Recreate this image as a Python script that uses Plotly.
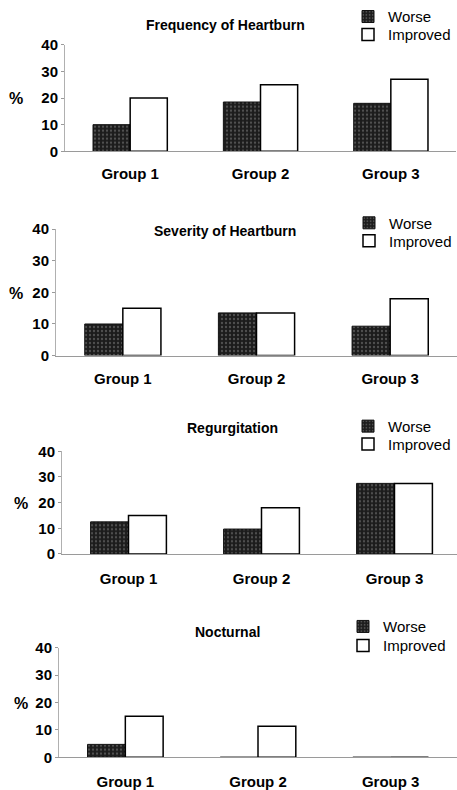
import plotly.graph_objects as go

W, H = 457, 790

groups = ["Group 1", "Group 2", "Group 3"]
series_names = ["Worse", "Improved"]
panel_titles = ["Frequency of Heartburn", "Severity of Heartburn", "Regurgitation", "Nocturnal"]

freq_worse = [10, 18.5, 18]
freq_improved = [20, 25, 27]
sev_worse = [10, 13.5, 9.3]
sev_improved = [15, 13.5, 18]
reg_worse = [12.5, 9.7, 27.5]
reg_improved = [15, 18, 27.5]
noc_worse = [4.7, 0, 0]
noc_improved = [15, 11.3, 0]

y_ticks = [0, 10, 20, 30, 40]

panels = [
    (freq_worse, freq_improved),
    (sev_worse, sev_improved),
    (reg_worse, reg_improved),
    (noc_worse, noc_improved),
]


def vy(p):
    # target pixel row -> figure pixel row (compensates the capture's vertical fit)
    return (p - 8.2) / 0.978


# pixel geometry (layout only), given as target rows in the picture
ypix = [(150, 43), (355, 228), (554, 451), (758, 648)]       # (value 0, value 40)
xpix = [(65, 456), (56, 457), (62, 457), (59, 457)]
xrng = [(-0.5, 2.5), (-0.5, 2.5), (-0.5, 2.47), (-0.5, 2.5)]
title_pos = [(225, 23), (225, 230), (232, 428), (227, 632)]
pct_pos = [(16, 97), (16, 293), (21, 503), (21, 704)]
legend_x = [348, 349, 348, 343]
legend_rows = [(15, 33), (222, 240), (426, 444), (627, 646)]   # Worse, Improved
standoff = [9, 9, 11, 11]

FONT = "Liberation Sans, Arial, sans-serif"

fig = go.Figure()
layout = dict(
    width=W, height=H,
    margin=dict(l=0, r=0, t=0, b=0),
    paper_bgcolor="white", plot_bgcolor="white",
    showlegend=True,
    barmode="group", bargap=0.43, bargroupgap=0,
    font=dict(family=FONT, color="black"),
    annotations=[],
)

for i, (worse, improved) in enumerate(panels):
    k = "" if i == 0 else str(i + 1)
    xa, ya = "x" + k, "y" + k
    lg_w = "legend" + ("" if i == 0 else str(2 * i + 1))
    lg_i = "legend" + str(2 * i + 2)
    fig.add_trace(go.Bar(
        x=groups, y=worse, name=series_names[0], xaxis=xa, yaxis=ya, legend=lg_w,
        showlegend=True,
        marker=dict(color="#1c1c1c", line=dict(color="#111", width=1),
                    pattern=dict(shape=".", fgcolor="#8a8a8a", bgcolor="#1c1c1c",
                                 size=4, solidity=0.25)),
    ))
    fig.add_trace(go.Bar(
        x=groups, y=improved, name=series_names[1], xaxis=xa, yaxis=ya, legend=lg_i,
        showlegend=True,
        marker=dict(color="white", line=dict(color="black", width=1.5)),
    ))
    y0, y1 = ypix[i]
    x0, x1 = xpix[i]
    layout["xaxis" + k] = dict(
        domain=[x0 / W, x1 / W], anchor=ya, type="category", range=list(xrng[i]),
        showgrid=False, zeroline=False, showline=True, linecolor="#9a9a9a", linewidth=1,
        ticks="", ticklabelstandoff=standoff[i],
        tickfont=dict(family=FONT, size=15, color="black", weight="bold"),
    )
    layout["yaxis" + k] = dict(
        domain=[1 - vy(y0) / H, 1 - vy(y1) / H], anchor=xa, range=[0, 40],
        tickvals=y_ticks, showgrid=False, zeroline=False,
        showline=True, linecolor="#b0b0b0", linewidth=1,
        ticks="outside", ticklen=3, tickcolor="#9a9a9a",
        tickfont=dict(family=FONT, size=15, color="black", weight="bold"),
    )
    for lg, row in ((lg_w, legend_rows[i][0]), (lg_i, legend_rows[i][1])):
        layout[lg] = dict(
            x=legend_x[i] / W, y=1 - vy(row) / H, xanchor="left", yanchor="middle",
            bgcolor="rgba(0,0,0,0)", font=dict(family=FONT, size=15, color="black"),
            tracegroupgap=0, itemclick=False, visible=True,
        )
    tx, ty = title_pos[i]
    layout["annotations"].append(dict(
        text=panel_titles[i], xref="paper", yref="paper", x=tx / W, y=1 - vy(ty) / H,
        xanchor="center", yanchor="middle", showarrow=False,
        font=dict(family=FONT, size=14, color="black", weight="bold"),
    ))
    px, py = pct_pos[i]
    layout["annotations"].append(dict(
        text="%", xref="paper", yref="paper", x=px / W, y=1 - vy(py) / H,
        xanchor="center", yanchor="middle", showarrow=False,
        font=dict(family=FONT, size=16, color="black", weight="bold"),
    ))

fig.update_layout(**layout)
fig.write_html(
    "out.html",
    config={"displayModeBar": False},
    post_script="document.body.style.margin='0';document.body.style.overflow='hidden';",
)
